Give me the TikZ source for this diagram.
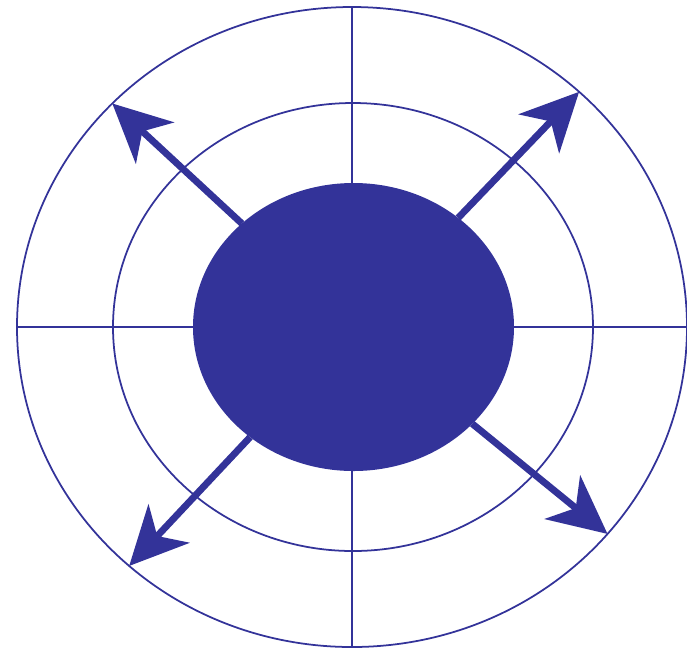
\documentclass[tikz,border=0pt]{standalone}
\usetikzlibrary{shapes.geometric,arrows.meta}
\definecolor{ink}{HTML}{333399}

\begin{document}
\begin{tikzpicture}[
  ring/.style={
    ellipse, draw=ink, line width=0.5pt,
    inner sep=0pt, outer sep=0pt
  },
  spoke/.style={
    draw=ink, line width=0.5pt
  },
  burst/.style={
    -{Stealth[length=0.58cm, width=0.56cm, inset=0.17cm]},
    ink, line width=1.95pt
  }
]

\useasboundingbox (-3.52,-3.24) rectangle (3.35,3.27);

% ==================== RINGS ====================

% Outer ring
\node (outer) [ring, minimum width=6.70cm, minimum height=6.40cm] at (0, 0) {};

% Middle ring
\node (middle) [ring, minimum width=4.80cm, minimum height=4.48cm] at (0.01, 0) {};

% Cross lines
\draw [spoke] (outer.north) -- (outer.south);
\draw [spoke] (outer.west) -- (outer.east);

% Filled core
\node (core) [ellipse, fill=ink, inner sep=0pt, outer sep=0pt,
    minimum width=3.21cm, minimum height=2.88cm] at (0.015, 0) {};

% ==================== ARROWS ====================

\draw [burst] (core) -- (outer.137);
\draw [burst] (core) -- (outer.46.6);
\draw [burst] (core) -- (outer.227);
\draw [burst] (core) -- (outer.321);

\end{tikzpicture}
\end{document}
